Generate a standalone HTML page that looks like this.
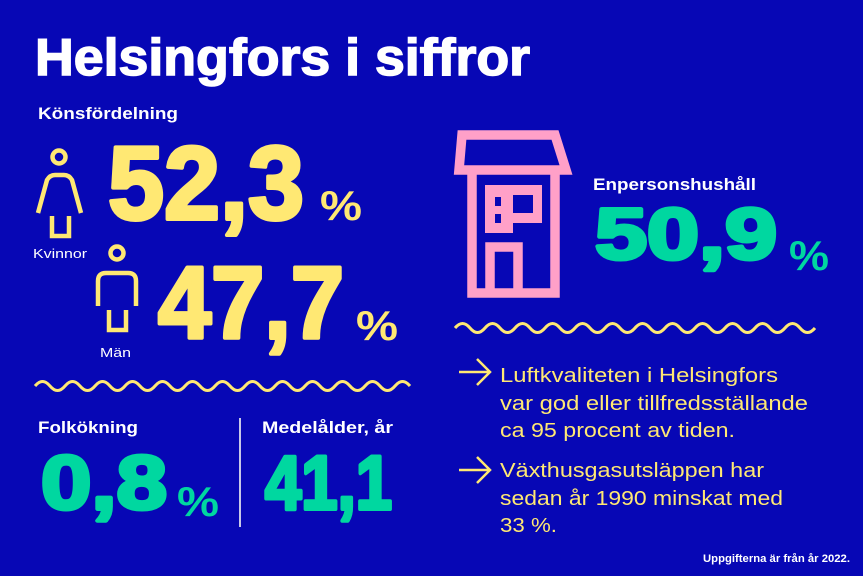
<!DOCTYPE html>
<html><head><meta charset="utf-8"><style>
html,body{margin:0;padding:0;background:#0707b5}
svg{display:block}
text{font-family:"Liberation Sans",sans-serif}
</style></head><body>
<svg width="863" height="576" viewBox="0 0 863 576" xmlns="http://www.w3.org/2000/svg">
<rect width="863" height="576" fill="#0707b5"/>
<text x="35" y="75" font-size="52" font-weight="bold" fill="#fff" stroke="#fff" stroke-width="1.5" textLength="495" lengthAdjust="spacingAndGlyphs">Helsingfors i siffror</text>
<text x="38" y="119" font-size="17" font-weight="bold" fill="#fff" textLength="140" lengthAdjust="spacingAndGlyphs">Könsfördelning</text>

<g fill="none" stroke="#ffe873" stroke-width="4.5">
<circle cx="59" cy="157" r="6.5"/>
<path d="M38 213 L47 180 Q50 175 55 175 L64 175 Q69 175 72 180 L81 213"/>
<path d="M52 216 V236 H69 V216"/>
<circle cx="117" cy="253" r="6.5"/>
<path d="M98 306 V281 Q98 273 106 273 L128 273 Q136 273 136 281 V306"/>
<path d="M109 310 V330 H126 V310"/>
</g>
<g fill="#ffe873" stroke="#ffe873" stroke-width="4" stroke-linejoin="round" font-weight="bold">
<text x="108" y="219" font-size="104" textLength="196" lengthAdjust="spacingAndGlyphs">52,3</text>
<text x="158" y="338" font-size="102" textLength="186" lengthAdjust="spacingAndGlyphs">47,7</text>
</g>
<g fill="#ffe873" font-weight="bold">
<text x="320" y="220" font-size="42" textLength="42" lengthAdjust="spacingAndGlyphs">%</text>
<text x="356" y="340" font-size="42" textLength="42" lengthAdjust="spacingAndGlyphs">%</text>
</g>
<text x="33" y="258" font-size="13" fill="#fff" textLength="54" lengthAdjust="spacingAndGlyphs">Kvinnor</text>
<text x="100" y="357" font-size="13" fill="#fff" textLength="31" lengthAdjust="spacingAndGlyphs">Män</text>

<path d="M35 386 q7.5 -9 15 0 t15 0 t15 0 t15 0 t15 0 t15 0 t15 0 t15 0 t15 0 t15 0 t15 0 t15 0 t15 0 t15 0 t15 0 t15 0 t15 0 t15 0 t15 0 t15 0 t15 0 t15 0 t15 0 t15 0 t15 0" fill="none" stroke="#ffe873" stroke-width="3"/>

<text x="38" y="433" font-size="17" font-weight="bold" fill="#fff" textLength="100" lengthAdjust="spacingAndGlyphs">Folkökning</text>
<text x="262" y="433" font-size="17" font-weight="bold" fill="#fff" textLength="131" lengthAdjust="spacingAndGlyphs">Medelålder, år</text>
<line x1="240" y1="418" x2="240" y2="527" stroke="#c8c8e8" stroke-width="2"/>
<g fill="#00d7a0" stroke="#00d7a0" stroke-width="4" stroke-linejoin="round" font-weight="bold">
<text x="41" y="509" font-size="76" textLength="126" lengthAdjust="spacingAndGlyphs">0,8</text>
<text x="265" y="509" font-size="76" textLength="127" lengthAdjust="spacingAndGlyphs">41,1</text>
<text x="595" y="259" font-size="72" textLength="182" lengthAdjust="spacingAndGlyphs">50,9</text>
</g>
<g fill="#00d7a0" font-weight="bold">
<text x="177" y="516" font-size="42" textLength="42" lengthAdjust="spacingAndGlyphs">%</text>
<text x="789" y="270" font-size="42" textLength="40" lengthAdjust="spacingAndGlyphs">%</text>
</g>

<g fill="none" stroke="#ffa0c8" stroke-width="9.5">
<path d="M462 135 H555 L566 170 H459 Z" stroke-linejoin="miter"/>
<path d="M472 172 V293 H555 V172"/>
<path d="M490 293 V247 H518 V293"/>
</g>
<g fill="#ffa0c8">
<rect x="485" y="185" width="57" height="38"/>
<rect x="485" y="222" width="28" height="11"/>
</g>
<g fill="#0707b5">
<rect x="495" y="197" width="6" height="9"/>
<rect x="495" y="214" width="6" height="9"/>
<rect x="513" y="195" width="20" height="18"/>
</g>
<text x="593" y="190" font-size="17" font-weight="bold" fill="#fff" textLength="163" lengthAdjust="spacingAndGlyphs">Enpersonshushåll</text>

<path d="M455 328 q7.5 -9 15 0 t15 0 t15 0 t15 0 t15 0 t15 0 t15 0 t15 0 t15 0 t15 0 t15 0 t15 0 t15 0 t15 0 t15 0 t15 0 t15 0 t15 0 t15 0 t15 0 t15 0 t15 0 t15 0 t15 0" fill="none" stroke="#ffe873" stroke-width="3"/>

<g fill="none" stroke="#ffe873" stroke-width="2.5">
<path d="M459 372 H490 M477 359 L490 372 L477 385"/>
<path d="M459 470 H490 M477 457 L490 470 L477 483"/>
</g>
<g fill="#ffe873" font-size="20">
<text x="500" y="382" textLength="278" lengthAdjust="spacingAndGlyphs">Luftkvaliteten i Helsingfors</text>
<text x="500" y="410" textLength="308" lengthAdjust="spacingAndGlyphs">var god eller tillfredsställande</text>
<text x="500" y="437" textLength="235" lengthAdjust="spacingAndGlyphs">ca 95 procent av tiden.</text>
<text x="500" y="477" textLength="264" lengthAdjust="spacingAndGlyphs">Växthusgasutsläppen har</text>
<text x="500" y="505" textLength="283" lengthAdjust="spacingAndGlyphs">sedan år 1990 minskat med</text>
<text x="500" y="532" textLength="57" lengthAdjust="spacingAndGlyphs">33 %.</text>
</g>
<text x="703" y="562" font-size="11" font-weight="bold" fill="#fff" textLength="147" lengthAdjust="spacingAndGlyphs">Uppgifterna är från år 2022.</text>
</svg>
</body></html>
